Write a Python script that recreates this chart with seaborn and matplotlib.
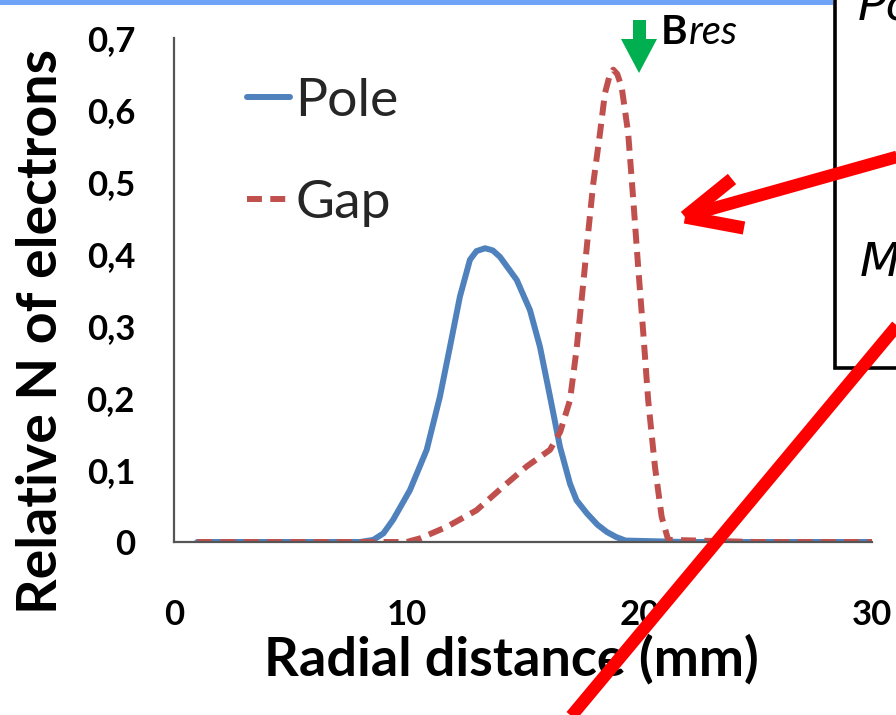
import numpy as np
import pandas as pd
import matplotlib
matplotlib.use("Agg")
import matplotlib.pyplot as plt
import seaborn as sns
from matplotlib.lines import Line2D
from matplotlib.patches import Rectangle, Polygon

# ---------------- data ----------------
pole_x = [1, 4, 8, 8.57, 9.0, 9.42, 10.14, 10.86, 11.43, 11.86, 12.29, 12.72, 13.0,
          13.37, 13.7, 14.01, 14.73, 15.30, 15.73, 16.16, 16.59, 17.02, 17.3, 17.74,
          18.2, 18.6, 19.0, 19.4, 22, 26, 30]
pole_y = [0, 0, 0, 0.003, 0.012, 0.031, 0.072, 0.128, 0.202, 0.271, 0.341, 0.392, 0.404,
          0.408, 0.405, 0.396, 0.364, 0.322, 0.271, 0.202, 0.132, 0.081, 0.058, 0.040,
          0.024, 0.014, 0.007, 0.002, 0, 0, 0]

gap_x = [1, 5, 10, 10.57, 11.72, 13.0, 14.15, 15.16, 16.16, 16.6, 17.02, 17.3, 17.59,
         17.8, 18.02, 18.31, 18.52, 18.7, 18.88, 19.05, 19.24, 19.52, 19.74, 19.95,
         20.17, 20.38, 20.67, 20.96, 21.24, 25, 30]
gap_y = [0, 0, 0, 0.005, 0.021, 0.044, 0.077, 0.105, 0.128, 0.153, 0.197, 0.267, 0.359,
         0.429, 0.498, 0.568, 0.623, 0.645, 0.656, 0.65, 0.632, 0.568, 0.475, 0.382,
         0.29, 0.197, 0.105, 0.035, 0.003, 0, 0]

series_names = ["Pole", "Gap"]
x_ticks = [0, 10, 20, 30]
x_tick_labels = ["0", "10", "20", "30"]
y_ticks = [0, 0.1, 0.2, 0.3, 0.4, 0.5, 0.6, 0.7]
y_tick_labels = ["0", "0,1", "0,2", "0,3", "0,4", "0,5", "0,6", "0,7"]
x_label = "Radial distance (mm)"
y_label = "Relative N of electrons"

df = pd.concat([
    pd.DataFrame({"x": pole_x, "y": pole_y, "series": "Pole"}),
    pd.DataFrame({"x": gap_x, "y": gap_y, "series": "Gap"}),
], ignore_index=True)

# ---------------- style ----------------
sns.set_theme(style="white")
plt.rcParams["font.family"] = ["Lato", "DejaVu Sans"]

W, H = 896, 715
fig = plt.figure(figsize=(W / 100, H / 100), dpi=100)
fig.patch.set_facecolor("white")

def fx(x):
    return x / W

def fy(y):
    return 1 - y / H

ax = fig.add_axes([fx(174), fy(542), (872 - 174) / W, (542 - 38) / H])

colors = {"Pole": "#4f81bd", "Gap": "#c0504d"}
dash = (2.5, 1.4)
sns.lineplot(data=df, x="x", y="y", hue="series", style="series",
             palette=colors, dashes={"Pole": "", "Gap": dash},
             estimator=None, sort=False, linewidth=4.3, legend=False, ax=ax)
for ln in ax.get_lines():
    ln.set_solid_joinstyle("round")
    ln.set_dash_joinstyle("round")

ax.set_xlim(0, 30)
ax.set_ylim(0, 0.7)
ax.set_xticks(x_ticks)
ax.set_xticklabels(x_tick_labels)
ax.set_yticks(y_ticks)
ax.set_yticklabels(y_tick_labels)
ax.tick_params(axis="both", length=0, labelsize=25)
ax.tick_params(axis="y", pad=28)
ax.tick_params(axis="x", pad=41)
for lab in ax.get_xticklabels() + ax.get_yticklabels():
    lab.set_fontweight("bold")
    lab.set_color("black")

for s in ["top", "right"]:
    ax.spines[s].set_visible(False)
for s in ["left", "bottom"]:
    ax.spines[s].set_color("#555555")
    ax.spines[s].set_linewidth(1.6)
ax.set_facecolor("none")

ax.set_xlabel(x_label, fontsize=39, fontweight="bold", color="black")
ax.set_ylabel(y_label, fontsize=40, fontweight="bold", color="black")
ax.xaxis.set_label_coords((511 - 174) / 698, (542 - 634) / 504)
ax.yaxis.set_label_coords((66 - 174) / 698, (542 - 331) / 504)

handles = [Line2D([], [], color=colors["Pole"], lw=4.3),
           Line2D([], [], color=colors["Gap"], lw=4.3, dashes=dash)]
leg = fig.legend(handles, series_names, loc="upper left",
                 bbox_to_anchor=(fx(247), fy(78)), frameon=False,
                 fontsize=38.5, handlelength=0.8, handletextpad=0.1,
                 labelspacing=1.02, borderpad=0, borderaxespad=0)

# ---------------- slide decorations ----------------
fig.add_artist(Rectangle((0, fy(5)), fx(833), 5 / H, transform=fig.transFigure,
                         facecolor="#6ea3f7", edgecolor="none", zorder=5))
fig.add_artist(Rectangle((fx(835), fy(368)), fx(80), 380 / H, transform=fig.transFigure,
                         facecolor="white", edgecolor="black", linewidth=2.6, zorder=6))
fig.text(fx(858), fy(20), "Po", fontsize=34, style="italic", color="black",
         family="DejaVu Sans", ha="left", va="baseline", zorder=7)
fig.text(fx(860), fy(276), "M", fontsize=34, style="italic", color="black",
         family="DejaVu Sans", ha="left", va="baseline", zorder=7)

# green arrow and label
green = "#00b050"
fig.add_artist(Polygon([(fx(633), fy(20)), (fx(646), fy(20)), (fx(646), fy(39)),
                        (fx(657), fy(39)), (fx(639), fy(73)), (fx(621), fy(39)),
                        (fx(633), fy(39))], closed=True, transform=fig.transFigure,
                       facecolor=green, edgecolor="none", zorder=7))
fig.text(fx(661), fy(44), "B", fontsize=29, fontweight="bold", color="black",
         ha="left", va="baseline", zorder=7)
fig.text(fx(689), fy(44), "res", fontsize=29, style="italic", color="black",
         ha="left", va="baseline", zorder=7)

# red arrows
red = "#ff0000"
def red_line(p, q, lw=9):
    fig.add_artist(Line2D([fx(p[0]), fx(q[0])], [fy(p[1]), fy(q[1])],
                          transform=fig.transFigure, color=red, lw=lw,
                          solid_capstyle="butt", zorder=8))

red_line((900, 156), (686, 216))
red_line((685, 217), (732, 179), lw=9.5)
red_line((685, 217), (744, 228), lw=9.5)
red_line((568, 720), (900, 322))

fig.savefig("out.png", dpi=100, facecolor="white")
